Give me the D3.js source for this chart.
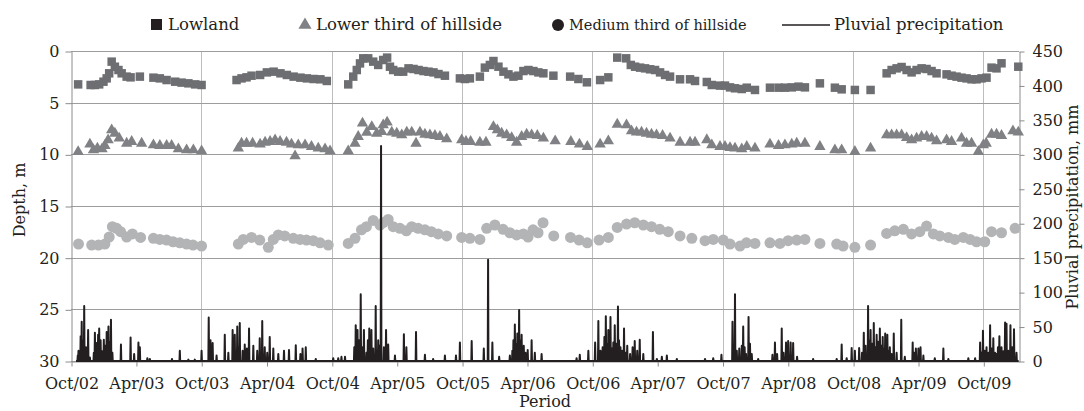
<!DOCTYPE html>
<html>
<head>
<meta charset="utf-8">
<script src="https://cdn.jsdelivr.net/npm/d3@7"></script>
<style>
  body { margin: 0; background: #fff; }
  text { font-family: "DejaVu Serif", serif; fill: #231f20; }
</style>
</head>
<body>
<svg id="chart" width="1084" height="411"></svg>
<script>
const lowland = [
  ["2002-10-21",3.23],["2002-11-25",3.29],["2002-12-07",3.29],["2002-12-19",3.23],["2002-12-31",2.97],["2003-01-09",2.65],["2003-01-16",2.16],["2003-01-23",1.03],["2003-02-01",1.52],["2003-02-11",1.84],["2003-02-20",2.16],["2003-03-06",2.48],["2003-03-17",2.55],["2003-04-12",2.48],["2003-05-20",2.58],["2003-06-07",2.65],["2003-06-26",2.81],["2003-07-20",2.97],["2003-08-07",3.06],["2003-08-26",3.13],["2003-09-14",3.23],["2003-10-02",3.29],
  ["2004-01-08",2.81],["2004-01-22",2.65],["2004-02-05",2.55],["2004-02-19",2.39],["2004-03-14",2.32],["2004-04-02",2.07],["2004-04-21",2.00],["2004-05-10",2.16],["2004-05-28",2.32],["2004-06-16",2.48],["2004-07-05",2.58],["2004-07-23",2.65],["2004-08-11",2.71],["2004-08-30",2.74],["2004-09-17",2.90],
  ["2004-11-16",3.23],["2004-11-30",2.48],["2004-12-10",1.84],["2004-12-19",1.20],["2004-12-28",0.71],["2005-01-11",0.71],["2005-01-25",1.03],["2005-02-08",1.35],["2005-02-22",0.87],["2005-03-05",0.64],["2005-03-13",1.52],["2005-03-22",1.84],["2005-04-05",2.00],["2005-04-19",2.00],["2005-05-04",1.68],["2005-05-18",1.74],["2005-06-01",1.84],["2005-06-15",1.94],["2005-06-29",2.00],["2005-07-13",2.07],["2005-07-27",2.23],["2005-08-14",2.39],
  ["2005-09-25",2.65],["2005-10-09",2.71],["2005-10-23",2.65],["2005-11-20",2.48],["2005-12-04",1.61],["2005-12-18",1.35],["2005-12-28",0.97],["2006-01-11",1.52],["2006-01-25",2.00],["2006-02-08",2.26],["2006-02-22",2.48],["2006-03-08",2.39],["2006-03-22",1.94],["2006-04-05",1.84],["2006-04-19",1.94],["2006-05-03",2.07],["2006-05-17",2.16],["2006-06-14",2.39],["2006-07-31",2.48],["2006-08-23",2.71],["2006-09-16",3.03],
  ["2006-10-23",2.81],["2006-11-15",2.55],["2006-12-10",0.64],["2007-01-04",0.71],["2007-01-17",1.35],["2007-01-29",1.52],["2007-02-12",1.61],["2007-02-26",1.68],["2007-03-12",1.77],["2007-03-26",1.84],["2007-04-09",2.07],["2007-04-23",2.32],["2007-05-07",2.48],["2007-06-04",2.74],["2007-07-02",2.74],["2007-07-16",2.90],["2007-08-18",3.00],["2007-09-01",3.29],["2007-09-24",3.35],["2007-10-08",3.35],["2007-10-22",3.52],["2007-11-05",3.61],["2007-11-24",3.68],["2007-12-08",3.55],["2007-12-31",3.77],
  ["2008-02-11",3.55],["2008-03-06",3.55],["2008-03-24",3.55],["2008-04-12",3.52],["2008-05-01",3.45],["2008-05-19",3.52],["2008-06-30",3.13],["2008-08-11",3.55],["2008-08-30",3.71],["2008-10-06",3.77],["2008-11-19",3.77],
  ["2009-01-03",2.16],["2009-01-17",1.84],["2009-01-31",1.68],["2009-02-14",1.55],["2009-02-28",1.84],["2009-03-14",2.07],["2009-03-28",1.84],["2009-04-11",1.68],["2009-04-25",1.74],["2009-05-09",1.94],["2009-05-23",2.16],["2009-06-20",2.26],["2009-07-04",2.39],["2009-07-18",2.48],["2009-08-01",2.58],["2009-08-15",2.65],["2009-08-29",2.74],["2009-09-12",2.74],["2009-09-26",2.65],["2009-10-10",2.58],["2009-10-24",1.61],["2009-11-07",1.68],["2009-11-21",1.19],["2010-01-07",1.52]
];

const lowerThird = [
  ["2002-10-21",9.75],["2002-11-23",9.03],["2002-12-03",9.58],["2002-12-14",9.42],["2002-12-27",9.48],["2003-01-04",9.16],["2003-01-13",8.61],["2003-01-23",7.65],["2003-02-01",7.97],["2003-02-13",8.45],["2003-03-06",8.94],["2003-03-20",8.77],["2003-04-17",8.94],["2003-05-20",9.10],["2003-06-07",9.16],["2003-06-26",9.16],["2003-07-10",9.16],["2003-07-29",9.48],["2003-08-21",9.58],["2003-09-09",9.58],["2003-10-02",9.68],
  ["2004-01-13",9.42],["2004-01-22",8.94],["2004-02-05",8.94],["2004-02-22",8.94],["2004-03-14",9.03],["2004-03-28",8.84],["2004-04-11",8.77],["2004-04-25",8.61],["2004-05-09",8.77],["2004-05-27",8.84],["2004-06-10",9.03],["2004-06-20",10.16],["2004-06-29",9.10],["2004-07-18",9.10],["2004-08-05",9.26],["2004-08-24",9.42],["2004-09-12",9.48],["2004-09-26",9.68],
  ["2004-11-16",9.68],["2004-12-05",8.94],["2004-12-14",8.29],["2004-12-26",7.00],["2005-01-07",7.88],["2005-01-21",7.33],["2005-02-04",7.97],["2005-02-18",7.81],["2005-02-22",7.16],["2005-03-05",6.90],["2005-03-18",7.87],["2005-04-01",7.97],["2005-04-15",8.13],["2005-04-29",7.87],["2005-05-13",7.87],["2005-05-25",8.94],["2005-06-05",7.87],["2005-06-19",8.07],["2005-07-03",8.13],["2005-07-17",8.19],["2005-07-31",8.29],["2005-08-19",8.52],
  ["2005-09-30",8.61],["2005-10-12",8.77],["2005-10-25",8.77],["2005-11-20",8.84],["2005-12-07",8.84],["2005-12-28",7.33],["2006-01-08",7.65],["2006-01-20",7.97],["2006-02-03",8.13],["2006-02-17",8.39],["2006-03-03",8.84],["2006-03-17",8.29],["2006-03-31",8.07],["2006-04-14",8.13],["2006-04-30",8.19],["2006-05-17",8.45],["2006-06-19",8.71],["2006-08-02",8.77],["2006-08-26",9.03],["2006-09-17",9.26],
  ["2006-10-23",9.03],["2006-11-15",8.71],["2006-12-10",7.10],["2007-01-05",7.16],["2007-01-19",7.74],["2007-02-02",7.87],["2007-02-16",7.87],["2007-03-02",7.97],["2007-03-16",8.07],["2007-03-30",8.13],["2007-04-16",8.19],["2007-05-07",8.45],["2007-06-04",8.84],["2007-07-02",8.84],["2007-07-16",8.84],["2007-08-18",8.60],["2007-09-01",9.10],["2007-09-24",9.26],["2007-10-08",9.26],["2007-10-22",9.36],["2007-11-05",9.42],["2007-11-24",9.48],["2007-12-08",9.26],["2007-12-31",9.42],
  ["2008-02-11",9.03],["2008-03-06",9.16],["2008-03-24",9.10],["2008-04-12",9.03],["2008-04-26",8.94],["2008-05-19",8.94],["2008-06-30",9.26],["2008-08-11",9.58],["2008-08-30",9.58],["2008-10-06",9.74],["2008-11-19",9.42],
  ["2009-01-03",8.13],["2009-01-17",8.13],["2009-01-31",8.13],["2009-02-14",8.13],["2009-02-28",8.39],["2009-03-14",8.61],["2009-03-28",8.45],["2009-04-11",8.29],["2009-04-25",8.29],["2009-05-09",8.45],["2009-05-23",8.71],["2009-06-20",8.61],["2009-07-04",8.77],["2009-08-01",8.45],["2009-08-15",8.94],["2009-08-29",8.94],["2009-09-17",9.74],["2009-10-01",9.10],["2009-10-09",8.94],["2009-10-24",8.07],["2009-11-07",8.07],["2009-11-21",8.19],["2009-12-23",7.74],["2010-01-07",7.87]
];

const mediumThird = [
  ["2002-10-22",18.68],["2002-11-28",18.78],["2002-12-17",18.78],["2003-01-04",18.68],["2003-01-16",18.00],["2003-01-25",17.00],["2003-02-06",17.16],["2003-02-17",17.49],["2003-03-06",18.00],["2003-03-22",17.70],["2003-04-14",18.04],["2003-05-20",18.13],["2003-06-07",18.23],["2003-06-26",18.30],["2003-07-14",18.46],["2003-08-02",18.56],["2003-08-21",18.68],["2003-09-08",18.78],["2003-10-02",18.88],
  ["2004-01-13",18.68],["2004-01-27",18.23],["2004-02-19",18.04],["2004-03-13",18.30],["2004-04-06",19.00],["2004-04-20",18.23],["2004-05-04",17.80],["2004-05-22",17.90],["2004-06-15",18.13],["2004-07-04",18.23],["2004-07-22",18.30],["2004-08-10",18.36],["2004-08-29",18.56],["2004-09-21",18.78],
  ["2004-11-16",18.62],["2004-12-05",18.13],["2004-12-23",17.30],["2005-01-06",17.00],["2005-01-25",16.40],["2005-02-13",16.84],["2005-02-22",16.60],["2005-03-08",16.30],["2005-03-22",17.00],["2005-04-10",17.16],["2005-04-28",17.40],["2005-05-13",17.00],["2005-05-31",17.16],["2005-06-19",17.30],["2005-07-07",17.49],["2005-07-26",17.70],["2005-08-19",17.90],
  ["2005-09-30",18.04],["2005-10-23",18.13],["2005-11-20",18.23],["2005-12-09",17.16],["2006-01-01",16.84],["2006-01-24",17.26],["2006-02-12",17.59],["2006-03-03",17.80],["2006-03-22",17.70],["2006-04-04",18.00],["2006-04-18",17.30],["2006-05-02",17.59],["2006-05-16",16.62],["2006-06-15",17.90],["2006-08-01",18.04],["2006-08-25",18.30],["2006-09-17",18.56],
  ["2006-10-20",18.30],["2006-11-15",18.04],["2006-12-10",17.07],["2007-01-05",16.75],["2007-01-28",16.62],["2007-02-21",16.84],["2007-03-16",17.00],["2007-04-08",17.26],["2007-05-02",17.49],["2007-06-04",17.90],["2007-07-07",18.13],["2007-08-13",18.36],["2007-09-05",18.23],["2007-10-03",18.30],["2007-10-22",18.68],["2007-11-19",18.88],["2007-12-07",18.56],["2007-12-31",18.62],
  ["2008-02-11",18.56],["2008-03-10",18.62],["2008-04-02",18.36],["2008-04-26",18.30],["2008-05-19",18.23],["2008-06-30",18.62],["2008-08-16",18.68],["2008-09-03",18.88],["2008-10-06",19.00],["2008-11-19",18.78],
  ["2009-01-03",17.65],["2009-01-26",17.40],["2009-02-19",17.26],["2009-03-14",17.70],["2009-04-06",17.49],["2009-04-25",16.94],["2009-05-14",17.70],["2009-06-01",17.90],["2009-06-25",18.04],["2009-07-13",18.23],["2009-08-06",18.04],["2009-08-25",18.23],["2009-09-12",18.46],["2009-10-05",18.46],["2009-10-24",17.49],["2009-11-21",17.59],["2009-12-29",17.16]
];

// rainy days (mm); every other day of the record is dry
const rainfall = [
  ["2002-10-20",8],["2002-10-22",15],["2002-10-28",36],["2002-10-31",57],["2002-11-03",30],["2002-11-07",80],["2002-11-12",20],["2002-11-18",45],["2002-11-23",5],["2002-12-04",12],["2002-12-07",41],["2002-12-12",26],["2002-12-16",38],["2002-12-19",47],["2002-12-23",30],["2002-12-27",14],["2003-01-01",31],["2003-01-05",22],["2003-01-09",42],["2003-01-14",50],["2003-01-18",28],["2003-01-21",60],["2003-01-25",12],["2003-02-18",24],["2003-03-17",34],["2003-03-27",10],["2003-04-08",27],["2003-04-12",20],["2003-05-03",4],["2003-05-10",3],["2003-07-11",3],["2003-08-02",15],["2003-08-26",2],["2003-09-13",2],
  ["2003-10-02",15],["2003-10-22",63],["2003-10-27",30],["2003-11-02",26],["2003-11-13",8],["2003-12-06",38],["2003-12-16",12],["2003-12-28",45],["2004-01-03",38],["2004-01-10",50],["2004-01-13",20],["2004-01-17",55],["2004-01-25",15],["2004-01-31",24],["2004-02-06",18],["2004-02-12",47],["2004-02-24",22],["2004-03-06",15],["2004-03-13",33],["2004-03-20",58],["2004-03-27",20],["2004-04-03",12],["2004-04-10",35],["2004-04-20",18],["2004-05-04",10],["2004-05-20",15],["2004-06-03",16],["2004-06-22",23],["2004-07-05",10],["2004-07-11",18],["2004-07-20",20],["2004-08-17",3],
  ["2004-10-05",4],["2004-10-19",4],["2004-10-28",6],["2004-11-07",6],["2004-12-03",20],["2004-12-07",52],["2004-12-12",45],["2004-12-16",30],["2004-12-21",97],["2004-12-25",20],["2004-12-30",45],["2005-01-06",12],["2005-01-10",30],["2005-01-14",47],["2005-01-20",45],["2005-01-25",18],["2005-02-01",80],["2005-02-08",30],["2005-02-12",22],["2005-02-16",312],["2005-02-24",20],["2005-03-02",45],["2005-03-08",24],["2005-03-27",8],["2005-04-21",39],["2005-04-28",20],["2005-05-25",42],["2005-06-19",9],["2005-07-12",3],["2005-08-14",8],["2005-09-14",8],["2005-09-25",27],
  ["2005-10-28",29],["2005-12-01",18],["2005-12-13",147],["2005-12-25",27],["2006-01-13",6],["2006-02-12",8],["2006-02-19",15],["2006-02-22",30],["2006-02-26",53],["2006-03-01",25],["2006-03-05",40],["2006-03-10",74],["2006-03-13",30],["2006-03-17",38],["2006-03-23",22],["2006-03-28",12],["2006-04-03",16],["2006-04-14",30],["2006-04-23",12],["2006-05-12",10],["2006-08-18",4],["2006-08-27",9],["2006-09-20",15],
  ["2006-10-09",27],["2006-10-18",58],["2006-10-24",15],["2006-10-30",20],["2006-11-04",35],["2006-11-08",65],["2006-11-12",25],["2006-11-15",45],["2006-11-18",30],["2006-11-21",64],["2006-11-25",18],["2006-11-29",27],["2006-12-03",52],["2006-12-07",25],["2006-12-12",79],["2006-12-15",30],["2006-12-19",20],["2006-12-24",15],["2006-12-29",47],["2007-01-03",12],["2007-01-07",22],["2007-01-15",10],["2007-01-22",20],["2007-01-28",29],["2007-02-04",15],["2007-02-11",31],["2007-02-21",10],["2007-03-20",42],["2007-03-31",3],["2007-04-14",6],["2007-04-28",8],["2007-05-26",3],["2007-08-13",3],["2007-09-05",4],["2007-09-28",9],
  ["2007-10-29",57],["2007-11-05",97],["2007-11-10",15],["2007-11-17",18],["2007-11-24",22],["2007-11-28",50],["2007-12-02",20],["2007-12-06",10],["2007-12-13",64],["2007-12-17",25],["2007-12-22",10],["2008-01-09",3],["2008-02-18",9],["2008-02-25",27],["2008-03-02",10],["2008-03-15",47],["2008-03-20",12],["2008-03-27",27],["2008-04-02",29],["2008-04-09",27],["2008-04-16",26],["2008-04-27",6],["2008-06-11",3],["2008-08-16",3],["2008-08-30",24],["2008-09-13",4],["2008-09-27",19],
  ["2008-10-06",15],["2008-10-18",19],["2008-10-26",12],["2008-10-31",41],["2008-11-05",22],["2008-11-12",80],["2008-11-16",30],["2008-11-19",45],["2008-11-24",25],["2008-11-28",55],["2008-12-02",20],["2008-12-06",38],["2008-12-10",28],["2008-12-15",47],["2008-12-19",22],["2008-12-23",35],["2008-12-26",18],["2008-12-30",40],["2009-01-05",38],["2009-01-08",15],["2009-01-12",20],["2009-01-17",10],["2009-01-23",40],["2009-01-31",12],["2009-02-13",60],["2009-02-23",6],["2009-03-17",27],["2009-03-21",12],["2009-03-26",18],["2009-04-02",18],["2009-04-08",20],["2009-04-16",8],["2009-05-18",4],["2009-06-11",18],["2009-06-25",3],["2009-08-20",4],["2009-09-08",4],["2009-09-22",27],["2009-09-26",12],["2009-09-30",44],
  ["2009-10-05",15],["2009-10-10",20],["2009-10-15",12],["2009-10-20",52],["2009-10-24",18],["2009-10-29",33],["2009-11-03",12],["2009-11-07",10],["2009-11-11",20],["2009-11-15",36],["2009-11-21",20],["2009-11-26",14],["2009-12-01",56],["2009-12-05",54],["2009-12-10",15],["2009-12-16",52],["2009-12-21",20],["2009-12-26",46],["2010-01-02",12]
];

const depthTicks = [0, 5, 10, 15, 20, 25, 30];
const rainTicks = [0, 50, 100, 150, 200, 250, 300, 350, 400, 450];
const periodStart = "2002-10-01", periodEnd = "2010-01-09";
const rainStart = "2002-10-15";

const parse = d3.timeParse("%Y-%m-%d");
const fmt = d3.timeFormat("%Y-%m-%d");

const svg = d3.select("#chart");
const plotLeft = 71, plotRight = 1019, plotTop = 51, plotBottom = 361;

const x = d3.scaleTime()
  .domain([parse(periodStart), parse(periodEnd)])
  .range([plotLeft, plotRight]);
const yDepth = d3.scaleLinear().domain([0, 30]).range([plotTop, plotBottom]);
const yRain = d3.scaleLinear().domain([0, 450]).range([plotBottom, plotTop]);

// half-year ticks starting in October
const periodTicks = d3.timeMonth.range(parse(periodStart), x.domain()[1], 6);
const octTicks = periodTicks.filter(d => d.getMonth() === 9);

// grid
svg.append("g").selectAll("line").data(octTicks.slice(1)).join("line")
  .attr("x1", d => Math.round(x(d)) + 0.5).attr("x2", d => Math.round(x(d)) + 0.5)
  .attr("y1", plotTop).attr("y2", plotBottom)
  .attr("stroke", "#bdbdbd").attr("stroke-width", 1);

svg.append("g").selectAll("line").data(depthTicks).join("line")
  .attr("x1", plotLeft).attr("x2", plotRight)
  .attr("y1", d => Math.round(yDepth(d)) + 0.5).attr("y2", d => Math.round(yDepth(d)) + 0.5)
  .attr("stroke", "#9d9d9d").attr("stroke-width", 1);

// axes
function styleAxis(g) {
  g.selectAll(".domain").attr("stroke", "#8c8c8c");
  g.selectAll(".tick line").attr("stroke", "#8c8c8c");
  g.selectAll(".tick text").attr("fill", "#231f20").style("font-size", "16px")
    .style("font-family", '"DejaVu Serif", serif');
}

svg.append("g")
  .attr("transform", `translate(${plotLeft + 0.5},0.5)`)
  .call(d3.axisLeft(yDepth).tickValues(depthTicks).tickSize(6).tickPadding(6).tickSizeOuter(0))
  .call(styleAxis);

svg.append("g")
  .attr("transform", `translate(${plotRight + 0.5},0.5)`)
  .call(d3.axisRight(yRain).tickValues(rainTicks).tickSize(5).tickPadding(8).tickSizeOuter(0))
  .call(styleAxis);

svg.append("g")
  .attr("transform", `translate(0.5,${plotBottom + 0.5})`)
  .call(d3.axisBottom(x).tickValues(periodTicks).tickFormat(d3.timeFormat("%b/%y"))
    .tickSize(5).tickPadding(11).tickSizeOuter(0))
  .call(styleAxis);

// axis titles
svg.append("text").attr("transform", "translate(25,200) rotate(-90)")
  .attr("text-anchor", "middle").style("font-size", "16px").text("Depth, m");
svg.append("text").attr("transform", "translate(1078,207) rotate(-90)")
  .attr("text-anchor", "middle").style("font-size", "16px").text("Pluvial precipitation, mm");
svg.append("text").attr("x", 545).attr("y", 407)
  .attr("text-anchor", "middle").style("font-size", "16px").text("Period");

// depth markers
const sq = d3.symbol(d3.symbolSquare, 72);
const tri = d3.symbol(d3.symbolTriangle, 56);
const circ = d3.symbol(d3.symbolCircle, 95);

function drawSeries(data, symbol, color) {
  svg.append("g").selectAll("path").data(data).join("path")
    .attr("d", symbol)
    .attr("transform", d => `translate(${x(parse(d[0]))},${yDepth(d[1])})`)
    .attr("fill", color);
}
drawSeries(mediumThird, circ, "#b3b4b6");
drawSeries(lowerThird, tri, "#808184");
drawSeries(lowland, sq, "#6d6e71");

// daily rainfall line
const rainByDay = new Map(rainfall);
const rainDays = d3.timeDay.range(parse(rainStart), parse(periodEnd))
  .map(d => ({ date: d, mm: rainByDay.get(fmt(d)) || 0 }));

svg.append("path")
  .datum(rainDays)
  .attr("d", d3.line().x(d => x(d.date)).y(d => yRain(d.mm)))
  .attr("fill", "none").attr("stroke", "#231f20")
  .attr("stroke-width", 2).attr("stroke-linejoin", "round");

// legend
const legend = svg.append("g");
legend.append("rect").attr("x", 151).attr("y", 19).attr("width", 11).attr("height", 11).attr("fill", "#231f20");
legend.append("text").attr("x", 168).attr("y", 30).style("font-size", "16.5px").text("Lowland");
legend.append("path").attr("d", d3.symbol(d3.symbolTriangle, 75)).attr("transform", "translate(305,25)").attr("fill", "#808184");
legend.append("text").attr("x", 316).attr("y", 30).style("font-size", "16.5px").text("Lower third of hillside");
legend.append("circle").attr("cx", 558).attr("cy", 25).attr("r", 6).attr("fill", "#231f20");
legend.append("text").attr("x", 569).attr("y", 30).style("font-size", "14.5px").text("Medium third of hillside");
legend.append("line").attr("x1", 782).attr("x2", 830).attr("y1", 25).attr("y2", 25).attr("stroke", "#231f20").attr("stroke-width", 1.5);
legend.append("text").attr("x", 834).attr("y", 30).style("font-size", "16.5px").text("Pluvial precipitation");
</script>
</body>
</html>
